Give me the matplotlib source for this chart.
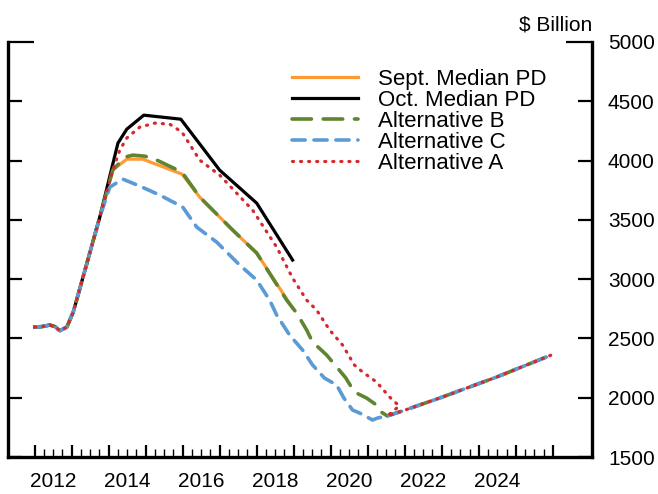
import matplotlib
matplotlib.use('Agg')
import matplotlib.pyplot as plt
from matplotlib.ticker import FixedLocator, NullFormatter

plt.rcParams['font.family'] = ['Liberation Sans', 'DejaVu Sans']
plt.rcParams['lines.scale_dashes'] = False

# shared start and shared end of every path (year, $ billion)
common_x = [2012.0, 2012.2, 2012.41, 2012.55, 2012.68, 2012.87, 2013.04, 2013.14, 2013.76]
common_y = [2596, 2600, 2613, 2600, 2565, 2596, 2720, 2830, 3523]
tail_x = [2021.53, 2022.0, 2022.94, 2024.48, 2025.96]
tail_y = [1846, 1895, 1997, 2174, 2360]

sept_x = [2014.11, 2014.49, 2014.92, 2015.98, 2016.46, 2017.35, 2018.0, 2018.97]
sept_y = [3920, 4012, 4012, 3886, 3692, 3414, 3220, 2756]

oct_x = [2014.25, 2014.49, 2014.95, 2015.95, 2017.0, 2018.0, 2018.97]
oct_y = [4147, 4265, 4383, 4349, 3919, 3641, 3161]

altb_x = [2014.11, 2014.44, 2014.65, 2014.98, 2015.30, 2015.98, 2016.46, 2017.35, 2018.0,
          2018.81, 2019.08, 2019.35, 2019.51, 2019.89, 2020.16, 2020.40, 2020.64, 2020.97,
          2021.24, 2021.32]
altb_y = [3920, 4029, 4046, 4037, 4004, 3903, 3692, 3414, 3220,
          2823, 2714, 2571, 2470, 2360, 2259, 2170, 2048, 1997,
          1938, 1888]

altc_x = [2014.03, 2014.38, 2014.84, 2015.38, 2016.0, 2016.38, 2016.92, 2017.54, 2018.0,
          2018.35, 2018.54, 2018.89, 2019.24, 2019.51, 2019.83, 2020.16, 2020.35, 2020.59,
          2020.78, 2021.13, 2021.27]
altc_y = [3776, 3844, 3785, 3709, 3608, 3439, 3312, 3119, 2992,
          2823, 2697, 2528, 2402, 2276, 2166, 2107, 2000, 1896,
          1871, 1812, 1829]

alta_x = [2014.11, 2014.30, 2014.49, 2014.84, 2015.25, 2015.65, 2015.98, 2016.46, 2017.0,
          2017.89, 2018.54, 2018.97, 2019.35, 2019.62, 2019.97, 2020.32, 2020.64, 2020.86,
          2021.24, 2021.59, 2021.85]
alta_y = [3920, 4088, 4190, 4282, 4316, 4307, 4240, 4004, 3877,
          3582, 3270, 3009, 2823, 2739, 2571, 2444, 2276, 2217,
          2132, 2006, 1930]

year_labels = ['2012', '2014', '2016', '2018', '2020', '2022', '2024']
y_ticks = [1500, 2000, 2500, 3000, 3500, 4000, 4500, 5000]

fig = plt.figure(figsize=(6.58, 4.94), dpi=100)
ax = fig.add_axes([8 / 658, 37 / 494, 584 / 658, 415 / 494])

series = [
    ('Sept. Median PD', sept_x, sept_y, dict(color='#FF9933', lw=2.3), False),
    ('Oct. Median PD', oct_x, oct_y, dict(color='black', lw=2.3), False),
    ('Alternative B', altb_x, altb_y, dict(color='#5F8530', lw=2.6, dashes=[14, 8.5],
                                           dash_capstyle='round'), True),
    ('Alternative C', altc_x, altc_y, dict(color='#5B9BD5', lw=2.6, dashes=[9.5, 6.3],
                                           dash_capstyle='round'), True),
    ('Alternative A', alta_x, alta_y, dict(color='#D42A2F', lw=2.3, dashes=[0.8, 5.0],
                                           dash_capstyle='round'), True),
]
for name, xs, ys, style, with_tail in series:
    px = common_x + xs + (tail_x if with_tail else [])
    py = common_y + ys + (tail_y if with_tail else [])
    ax.plot(px, py, label=name, **style)

ax.set_xlim(2011.28, 2027.06)
ax.set_ylim(1500, 5000)

ax.spines['top'].set_visible(False)
for side in ['left', 'right', 'bottom']:
    ax.spines[side].set_linewidth(2.4)

ax.xaxis.set_major_locator(FixedLocator(list(range(2012, 2027))))
ax.xaxis.set_minor_locator(FixedLocator([y + q / 4 for y in range(2012, 2026) for q in (1, 2, 3)]))
ax.xaxis.set_major_formatter(NullFormatter())
ax.tick_params(axis='x', which='major', direction='in', length=9, width=1.6)
ax.tick_params(axis='x', which='minor', direction='in', length=5.5, width=1.0)

ax.set_yticks(y_ticks)
ax.tick_params(axis='y', direction='in', length=10, width=1.6, left=True, right=True,
               labelleft=False, labelright=True, labelsize=15, pad=11.5)
top_tick = ax.yaxis.get_major_ticks()[-1]
top_tick.tick1line.set_markersize(19)
top_tick.tick2line.set_markersize(19)

sec = ax.secondary_xaxis('bottom')
sec.set_xticks([int(t) + 0.5 for t in year_labels], year_labels)
sec.tick_params(length=0, labelsize=15, pad=11)
sec.spines['bottom'].set_visible(False)

fig.text(592 / 658, 1 - 25 / 494, '$ Billion', ha='right', va='center', fontsize=15)

ax.legend(loc='upper left', bbox_to_anchor=(0.486, 0.936), frameon=False, fontsize=16,
          handlelength=3.0, handletextpad=0.9, labelspacing=0.0, borderpad=0,
          borderaxespad=0)

fig.savefig('out.png', dpi=100)
